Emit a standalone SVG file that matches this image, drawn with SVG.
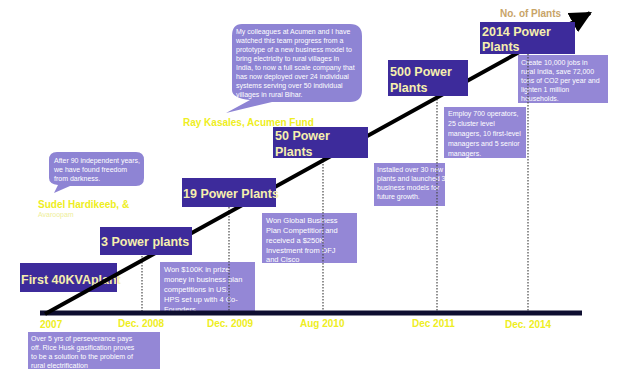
<svg xmlns="http://www.w3.org/2000/svg" width="618" height="369" viewBox="0 0 618 369">
<defs>
<style>
.dark{fill:#3d2b9b}
.light{fill:#9487d6}
.dt{font-family:"Liberation Sans",Arial,sans-serif;font-weight:bold;font-size:12.5px;fill:#f6efae}
.lt{font-family:"Liberation Sans",Arial,sans-serif;font-size:7px;fill:#ffffff}
.yl{font-family:"Liberation Sans",Arial,sans-serif;font-weight:bold;font-size:10px;fill:#eeee22}
.date{font-family:"Liberation Sans",Arial,sans-serif;font-weight:bold;font-size:10px;fill:#eeee22}
.dot{stroke:#4a4a4a;stroke-width:1.2;stroke-dasharray:1.5 1.5;fill:none}
</style>
<marker id="ah" viewBox="0 0 10 10" refX="9" refY="5" markerWidth="5.5" markerHeight="5.5" orient="auto">
<path d="M0,0 L10,5 L0,10 z" fill="#000"/>
</marker>
</defs>
<rect width="618" height="369" fill="#ffffff"/>

<g id="quote-top">
<path d="M242,24 H350 Q362,24 362,36 V90 Q362,102 350,102 H272 L226,113 L250,100 Q232,98 232,90 V36 Q232,24 242,24 z" fill="#8e84d4"/>
<text class="lt" x="236" y="34">My colleagues at Acumen and I have</text>
<text class="lt" x="236" y="43">watched this team progress from a</text>
<text class="lt" x="236" y="52">prototype of a new business model to</text>
<text class="lt" x="236" y="61">bring electricity to rural villages in</text>
<text class="lt" x="236" y="70">India, to now a full scale company that</text>
<text class="lt" x="236" y="79">has now deployed over 24 individual</text>
<text class="lt" x="236" y="88">systems serving over 50 individual</text>
<text class="lt" x="236" y="97">villages in rural Bihar.</text>
<text class="yl" x="183" y="126">Ray Kasales, Acumen Fund</text>
</g>

<g id="quote-left">
<path d="M57,152 H136 Q144,152 144,160 V178 Q144,186 136,186 H70 L54,193 L58,185 Q49,184 49,178 V160 Q49,152 57,152 z" fill="#8e84d4"/>
<text class="lt" x="54" y="163">After 90 independent years,</text>
<text class="lt" x="54" y="172">we have found freedom</text>
<text class="lt" x="54" y="181">from darkness.</text>
<text class="yl" x="38" y="208">Sudel Hardikeeb, &amp;</text>
<text class="lt" x="38" y="217" style="fill:#eeee99">Avaroopam</text>
</g>

<g id="box-2007-desc">
<rect class="light" x="28" y="332" width="132" height="40"/>
<text class="lt" x="31" y="341">Over 5 yrs of perseverance pays</text>
<text class="lt" x="31" y="350">off. Rice Husk gasification proves</text>
<text class="lt" x="31" y="359">to be a solution to the problem of</text>
<text class="lt" x="31" y="368">rural electrification</text>
</g>

<g id="box-2008-desc">
<rect class="light" x="160" y="262" width="95" height="51"/>
<text class="lt" x="164" y="272" style="font-size:7.5px">Won $100K in prize</text>
<text class="lt" x="164" y="282" style="font-size:7.5px">money in business plan</text>
<text class="lt" x="164" y="292" style="font-size:7.5px">competitions in US.</text>
<text class="lt" x="164" y="302" style="font-size:7.5px">HPS set up with 4 Co-</text>
<text class="lt" x="164" y="312" style="font-size:7.5px">Founders</text>
</g>

<g id="box-2009-desc">
<rect class="light" x="262" y="213" width="95" height="50"/>
<text class="lt" x="266" y="223" style="font-size:7.5px">Won Global Business</text>
<text class="lt" x="266" y="233" style="font-size:7.5px">Plan Competition and</text>
<text class="lt" x="266" y="243" style="font-size:7.5px">received a $250K</text>
<text class="lt" x="266" y="253" style="font-size:7.5px">Investment from DFJ</text>
<text class="lt" x="266" y="262" style="font-size:7.5px">and Cisco</text>
</g>

<g id="box-2010-desc">
<rect class="light" x="374" y="163" width="71" height="43"/>
<text class="lt" x="377" y="172">Installed over 30 new</text>
<text class="lt" x="377" y="181">plants and launched 3</text>
<text class="lt" x="377" y="190">business models for</text>
<text class="lt" x="377" y="199">future growth.</text>
</g>

<g id="box-2011-desc">
<rect class="light" x="444" y="107" width="82" height="51"/>
<text class="lt" x="448" y="116">Employ 700 operators,</text>
<text class="lt" x="448" y="126">25 cluster level</text>
<text class="lt" x="448" y="136">managers, 10 first-level</text>
<text class="lt" x="448" y="146">managers and 5 senior</text>
<text class="lt" x="448" y="156">managers.</text>
</g>

<g id="box-2014-desc">
<rect class="light" x="518" y="55" width="90" height="48"/>
<text class="lt" x="521" y="65">Create 10,000 jobs in</text>
<text class="lt" x="521" y="74">rural India, save 72,000</text>
<text class="lt" x="521" y="83">tons of CO2 per year and</text>
<text class="lt" x="521" y="92">lighten 1 million</text>
<text class="lt" x="521" y="101">households.</text>
</g>

<g id="node-first">
<rect class="dark" x="20" y="263" width="97" height="29"/>
<text class="dt" x="21" y="284">First 40KVAplant</text>
</g>

<g id="connectors">
<line class="dot" x1="142" y1="256" x2="142" y2="313"/>
<line class="dot" x1="229" y1="207" x2="229" y2="313"/>
<line class="dot" x1="323" y1="158" x2="323" y2="313"/>
<line class="dot" x1="437" y1="96" x2="437" y2="313"/>
<line class="dot" x1="528" y1="54" x2="528" y2="313"/>
<line x1="40" y1="313" x2="582" y2="313" stroke="#0e0e30" stroke-width="5"/>
<line x1="45" y1="314" x2="590" y2="13" stroke="#000" stroke-width="4" marker-end="url(#ah)"/>
</g>

<g id="node-3">
<rect class="dark" x="100" y="227" width="92" height="28"/>
<text class="dt" x="101" y="246">3 Power  plants</text>
</g>
<g id="node-19">
<rect class="dark" x="182" y="178" width="94" height="29"/>
<text class="dt" x="183" y="198">19 Power  Plants</text>
</g>
<g id="node-50">
<rect class="dark" x="273" y="127" width="95" height="31"/>
<text class="dt" x="275" y="140">50 Power</text>
<text class="dt" x="275" y="156">Plants</text>
</g>
<g id="node-500">
<rect class="dark" x="388" y="60" width="80" height="36"/>
<text class="dt" x="390" y="76">500 Power</text>
<text class="dt" x="390" y="92">Plants</text>
</g>
<g id="node-2014">
<rect class="dark" x="480" y="22" width="95" height="32"/>
<text class="dt" x="482" y="36">2014 Power</text>
<text class="dt" x="482" y="51">Plants</text>
</g>

<g id="labels">
<text x="500" y="17" style="font-family:'Liberation Sans',Arial,sans-serif;font-weight:bold;font-size:10px;fill:#c8a468">No. of Plants</text>
<text class="date" x="40" y="328">2007</text>
<text class="date" x="118" y="327">Dec. 2008</text>
<text class="date" x="207" y="327">Dec. 2009</text>
<text class="date" x="300" y="327">Aug 2010</text>
<text class="date" x="412" y="327">Dec 2011</text>
<text class="date" x="505" y="328">Dec. 2014</text>
</g>
</svg>
